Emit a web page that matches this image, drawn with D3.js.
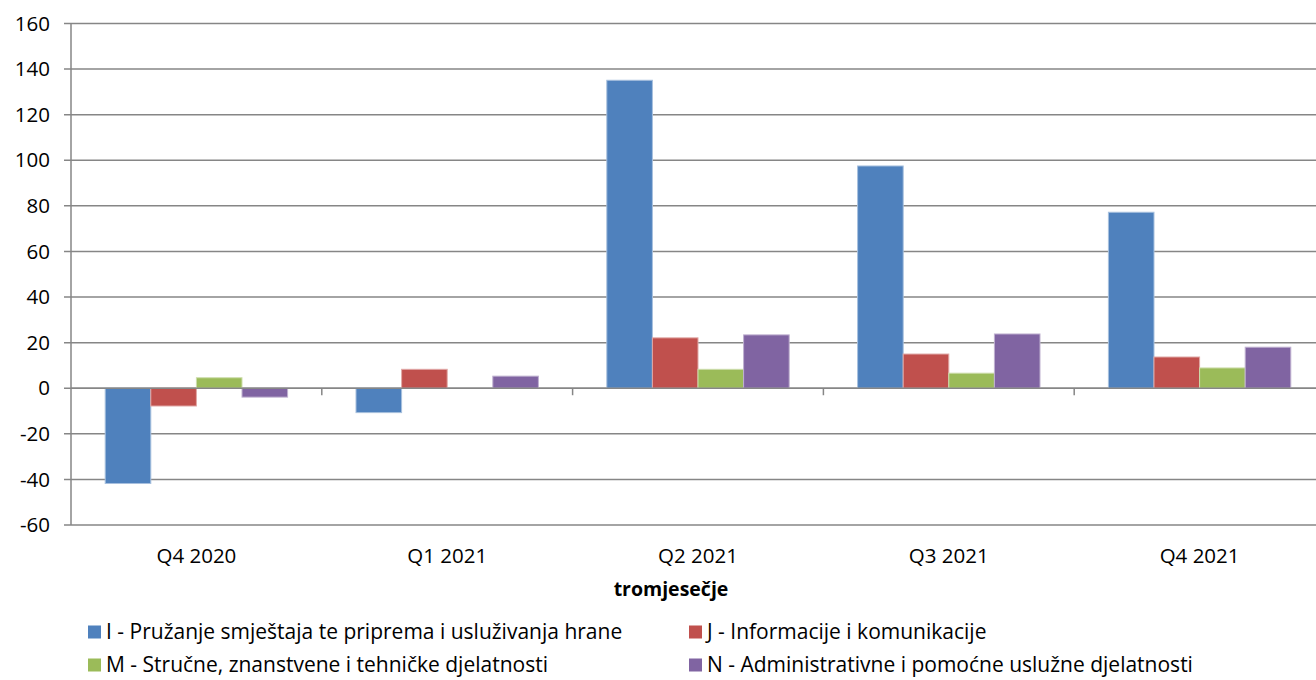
<!DOCTYPE html>
<html><head><meta charset="utf-8">
<script src="https://cdn.jsdelivr.net/npm/d3@7"></script>
<style>html,body{margin:0;padding:0;background:#fff;overflow:hidden}</style>
</head><body><svg id="c" width="1316" height="680"></svg>
<script>
const categories = ["Q4 2020","Q1 2021","Q2 2021","Q3 2021","Q4 2021"];
const seriesNames = [
  "I - Pružanje smještaja te priprema i usluživanja hrane",
  "J - Informacije i komunikacije",
  "M - Stručne, znanstvene i tehničke djelatnosti",
  "N - Administrativne i pomoćne uslužne djelatnosti"
];
const seriesI = [-41.8, -10.7, 135.1, 97.5, 77.2];
const seriesJ = [-7.8, 8.3, 22.1, 15.0, 13.7];
const seriesM = [4.6, 0, 8.3, 6.6, 8.9];
const seriesN = [-3.9, 5.3, 23.4, 23.8, 18.0];
const yTicks = [-60,-40,-20,0,20,40,60,80,100,120,140,160];
const colors = ["#4F81BD","#C0504D","#9BBB59","#8064A2"];
const strokes = ["#A7C0DE","#E0A8A6","#CDDDAC","#BFB1D0"];
const xTitle = "tromjesečje";

const allSeries = [seriesI, seriesJ, seriesM, seriesN];
const svg = d3.select("#c");
const font = "'Open Sans', Lato, sans-serif";
const L = 71, R = 1325, T = 23.5, B = 525;

const x = d3.scaleBand().domain(categories).range([L, R]).paddingInner(0).paddingOuter(0);
const bw = x.bandwidth() / 5.5;
const x1 = d3.scaleBand().domain(d3.range(4)).range([0, bw*4]);
const y = d3.scaleLinear().domain([-60,160]).range([B, T]);

// gridlines
svg.append("g").selectAll("line").data(yTicks).join("line")
  .attr("x1", L-7).attr("x2", 1316)
  .attr("y1", d => y(d)).attr("y2", d => y(d))
  .attr("stroke", "#868686").attr("stroke-width", 1.5);

// y axis line
svg.append("line").attr("x1", L).attr("x2", L).attr("y1", T).attr("y2", B)
  .attr("stroke", "#868686").attr("stroke-width", 1.5);

// y tick labels
svg.append("g").selectAll("text").data(yTicks).join("text")
  .attr("x", 50).attr("y", d => y(d)).attr("dy", "0.35em")
  .attr("text-anchor", "end").attr("font-family", font).attr("font-size", 20.5)
  .attr("fill", "#000").text(d => d);

// bars
const g = svg.append("g");
allSeries.forEach((s, si) => {
  g.append("g").selectAll("rect").data(s).join("rect")
    .attr("x", (d, i) => x(categories[i]) + bw*0.75 + x1(si))
    .attr("width", bw)
    .attr("y", d => y(Math.max(0, d)))
    .attr("height", d => Math.abs(y(d) - y(0)))
    .attr("fill", colors[si])
    .attr("stroke", d => d === 0 ? "none" : strokes[si]).attr("stroke-width", 1);
});

// x axis line at zero + ticks
svg.append("line").attr("x1", L).attr("x2", 1316).attr("y1", y(0)).attr("y2", y(0))
  .attr("stroke", "#868686").attr("stroke-width", 1.5);
svg.append("g").selectAll("line").data(categories.slice(1)).join("line")
  .attr("x1", d => x(d)).attr("x2", d => x(d))
  .attr("y1", y(0)).attr("y2", y(0)+7)
  .attr("stroke", "#868686").attr("stroke-width", 1.5);

// x labels
svg.append("g").selectAll("text").data(categories).join("text")
  .attr("x", d => x(d) + x.bandwidth()/2).attr("y", 563)
  .attr("text-anchor", "middle").attr("font-family", font).attr("font-size", 20.5)
  .text(d => d);

svg.append("text").attr("x", 671).attr("y", 596).attr("text-anchor", "middle")
  .attr("font-family", font).attr("font-size", 19.5).attr("font-weight", "bold").text(xTitle);

// legend
const legPos = [[88, 632],[689, 632],[88, 665],[689, 665]];
const lg = svg.append("g");
seriesNames.forEach((n, i) => {
  const [lx, ly] = legPos[i];
  lg.append("rect").attr("x", lx).attr("y", ly-6.5).attr("width", 13).attr("height", 13).attr("fill", colors[i]);
  lg.append("text").attr("x", lx+18).attr("y", ly).attr("dy", "0.35em")
    .attr("font-family", font).attr("font-size", 21).text(n);
});
</script></body></html>
